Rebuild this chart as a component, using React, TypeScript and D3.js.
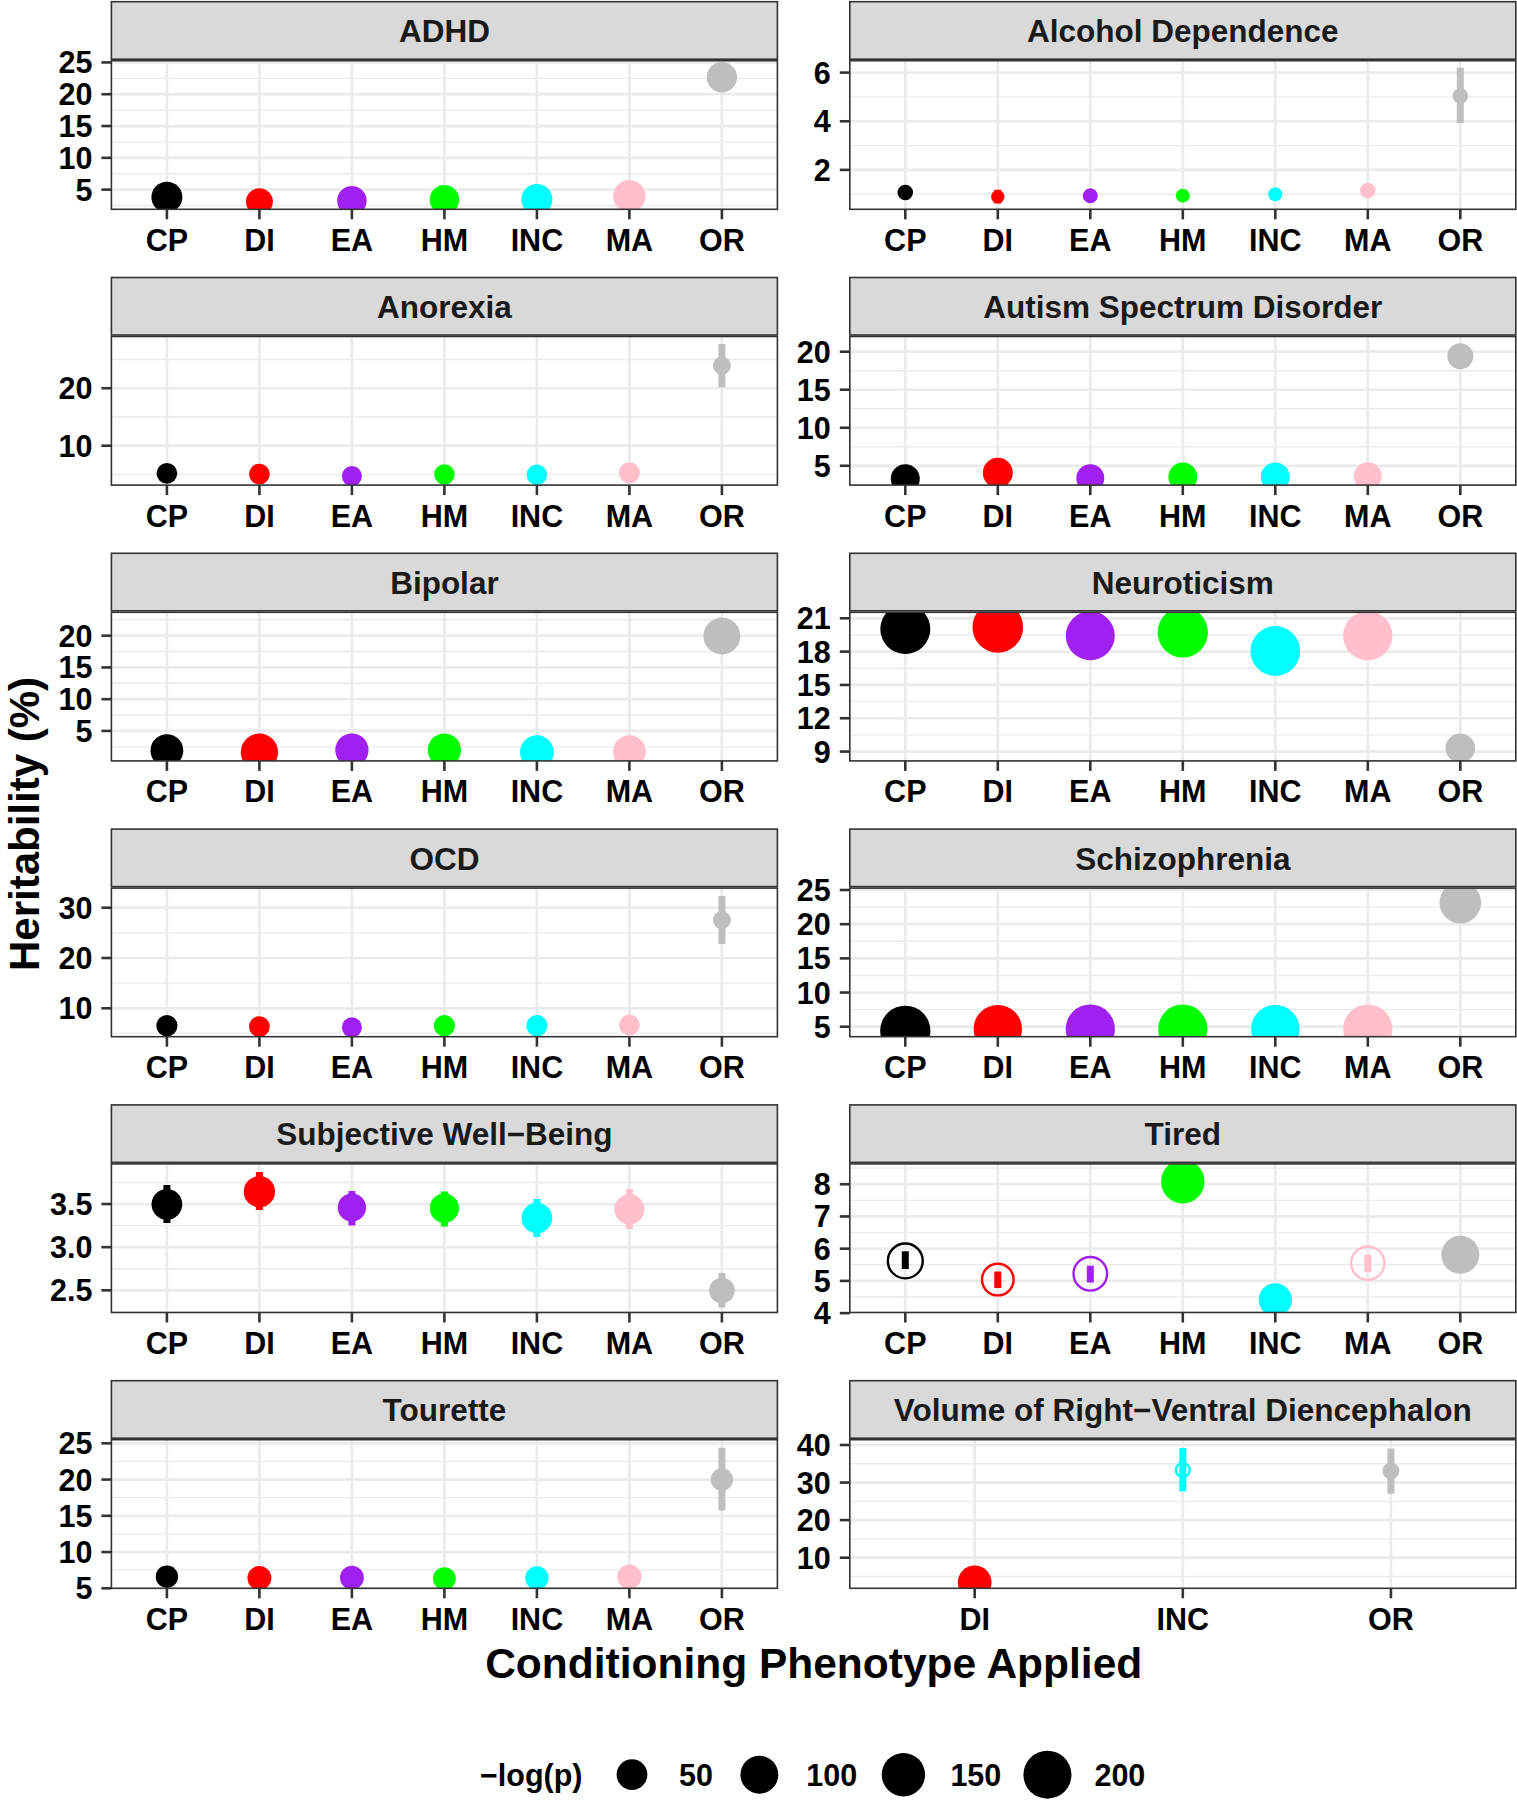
import React from "react";
import * as d3 from "d3";

// ---------- DATA ----------
const allCategories = ["CP", "DI", "EA", "HM", "INC", "MA", "OR"];
const categoryColors = ["#000000", "#FF0000", "#A020F0", "#00FF00", "#00FFFF", "#FFC0CB", "#BEBEBE"];

const panelNames = [
  "ADHD",
  "Alcohol Dependence",
  "Anorexia",
  "Autism Spectrum Disorder",
  "Bipolar",
  "Neuroticism",
  "OCD",
  "Schizophrenia",
  "Subjective Well\u2212Being",
  "Tired",
  "Tourette",
  "Volume of Right\u2212Ventral Diencephalon",
];

const panelCategories = [
  allCategories, allCategories, allCategories, allCategories, allCategories, allCategories,
  allCategories, allCategories, allCategories, allCategories, allCategories,
  ["DI", "INC", "OR"],
];

// heritability (%) point estimates
const heritability = [
  [3.82, 3.1, 3.27, 3.43, 3.46, 3.98, 22.67],
  [1.07, 0.9, 0.94, 0.94, 1.0, 1.15, 5.04],
  [5.19, 5.07, 4.72, 5.01, 4.95, 5.3, 23.94],
  [3.28, 4.08, 3.36, 3.53, 3.53, 3.62, 19.4],
  [1.9, 1.65, 1.98, 1.98, 1.65, 1.75, 19.95],
  [20.04, 20.19, 19.43, 19.73, 18.06, 19.43, 9.31],
  [6.54, 6.34, 6.21, 6.54, 6.54, 6.68, 27.55],
  [4.4, 4.65, 4.65, 4.65, 4.65, 4.65, 23.15],
  [3.497, 3.643, 3.459, 3.453, 3.338, 3.439, 2.498],
  [5.62, 5.04, 5.22, 8.08, 4.41, 5.55, 5.81],
  [6.6, 6.42, 6.47, 6.33, 6.42, 6.6, 20.0],
  [3.4, 33.35, 33.1],
];

const lowerCI = [
  [3.5, 2.97, 3.0, 3.15, 3.18, 3.6, 21.14],
  [0.92, 0.62, 0.8, 0.81, 0.87, 1.0, 3.93],
  [4.6, 4.5, 4.33, 4.45, 4.4, 4.7, 20.17],
  [2.9, 3.6, 3.0, 3.15, 3.15, 3.2, 18.3],
  [1.6, 1.35, 1.68, 1.68, 1.35, 1.45, 18.75],
  [19.6, 19.75, 19.0, 19.3, 17.6, 19.0, 8.77],
  [6.0, 5.8, 5.69, 6.0, 6.0, 6.1, 22.8],
  [4.25, 4.5, 4.5, 4.5, 4.5, 4.5, 22.0],
  [3.28, 3.43, 3.25, 3.24, 3.118, 3.21, 2.3],
  [5.37, 4.78, 4.95, 7.74, 4.23, 5.28, 5.6],
  [6.2, 6.0, 6.05, 5.93, 6.0, 6.2, 15.75],
  [3.2, 27.7, 27.0],
];

const upperCI = [
  [4.14, 3.23, 3.54, 3.71, 3.74, 4.36, 24.2],
  [1.22, 1.18, 1.08, 1.07, 1.13, 1.3, 6.2],
  [5.8, 5.65, 5.1, 5.55, 5.5, 5.9, 27.7],
  [3.66, 4.56, 3.72, 3.9, 3.9, 4.05, 20.5],
  [2.2, 1.95, 2.28, 2.28, 1.95, 2.05, 21.15],
  [20.5, 20.65, 19.85, 20.15, 18.5, 19.85, 9.85],
  [7.1, 6.9, 6.75, 7.1, 7.1, 7.25, 32.35],
  [4.55, 4.8, 4.8, 4.8, 4.8, 4.8, 24.3],
  [3.72, 3.87, 3.65, 3.646, 3.558, 3.674, 2.7],
  [5.92, 5.29, 5.47, 8.42, 4.6, 5.81, 6.0],
  [7.0, 6.85, 6.9, 6.75, 6.85, 7.0, 24.4],
  [3.65, 39.2, 39.1],
];

// -log(p) (point size)
const negLogP = [
  [51.7, 30.9, 42.8, 42.8, 51.7, 60.3, 47.7],
  [0.75, 0.0, 0.4, 0.05, 0.07, 0.75, 0.75],
  [8.9, 8.9, 7.5, 8.5, 8.5, 9.5, 3.5],
  [40.7, 46.0, 35.6, 40.7, 40.7, 35.6, 26.5],
  [62.9, 95.4, 66.2, 66.2, 69.5, 62.9, 93.0],
  [223.8, 232.0, 211.7, 228.0, 220.0, 215.0, 43.3],
  [10.0, 9.0, 7.5, 10.0, 10.0, 9.0, 3.5],
  [227.0, 204.7, 215.0, 215.0, 204.7, 215.0, 133.0],
  [50.6, 53.5, 37.0, 42.2, 50.0, 46.0, 25.3],
  [95.4, 70.9, 85.3, 151.3, 66.2, 83.0, 101.0],
  [13.5, 18.4, 18.4, 15.0, 16.7, 20.2, 13.5],
  [69.5, 1.5, 2.0],
];

// 1 = filled point, 0 = open point
const filledPoint = [
  [1, 1, 1, 1, 1, 1, 1],
  [1, 1, 1, 1, 1, 1, 1],
  [1, 1, 1, 1, 1, 1, 1],
  [1, 1, 1, 1, 1, 1, 1],
  [1, 1, 1, 1, 1, 1, 1],
  [1, 1, 1, 1, 1, 1, 1],
  [1, 1, 1, 1, 1, 1, 1],
  [1, 1, 1, 1, 1, 1, 1],
  [1, 1, 1, 1, 1, 1, 1],
  [0, 0, 0, 1, 1, 0, 1],
  [1, 1, 1, 1, 1, 1, 1],
  [1, 0, 1],
];

const yDomains = [
  [1.91, 25.27],
  [0.38, 6.49],
  [3.15, 29.0],
  [2.46, 22.0],
  [0.28, 23.68],
  [8.16, 21.54],
  [4.35, 33.9],
  [3.54, 25.28],
  [2.243, 3.965],
  [4.02, 8.63],
  [5.0, 25.5],
  [1.85, 41.41],
];

const yTicks = [
  [5, 10, 15, 20, 25],
  [2, 4, 6],
  [10, 20],
  [5, 10, 15, 20],
  [5, 10, 15, 20],
  [9, 12, 15, 18, 21],
  [10, 20, 30],
  [5, 10, 15, 20, 25],
  [2.5, 3.0, 3.5],
  [4, 5, 6, 7, 8],
  [5, 10, 15, 20, 25],
  [10, 20, 30, 40],
];

const legendBreaks = [50, 100, 150, 200];

// ---------- LAYOUT ----------
const FONT = "'Liberation Sans', Arial, Helvetica, sans-serif";
const colX = [111.4, 849.8];
const panelW = 666;
const rowStep = 275.8;
const firstStripTop = 1.7;
const stripH = 59;
const panelH = 148.6;
const grid = "#EBEBEB";
const dark = "#333333";

const sizeScale = d3.scalePow().exponent(0.5).domain([0, 200]).range([6.7, 24]);
const colorScale = d3.scaleOrdinal<string, string>().domain(allCategories).range(categoryColors);

function Panel({ idx }: { idx: number }) {
  const col = idx % 2;
  const row = Math.floor(idx / 2);
  const x0 = colX[col];
  const stripTop = firstStripTop + rowStep * row;
  const top = stripTop + stripH;
  const bottom = top + panelH;
  const cats = panelCategories[idx];
  const x = d3.scalePoint<string>().domain(cats).range([x0, x0 + panelW]).padding(0.6);
  const y = d3.scaleLinear().domain(yDomains[idx]).range([bottom, top]);
  const ticks = yTicks[idx];
  const step = ticks[1] - ticks[0];
  const dom = yDomains[idx];
  const minor: number[] = [];
  for (let k = -1; k < ticks.length; k++) {
    const v = ticks[0] + step * (k + 0.5);
    if (v > dom[0] && v < dom[1]) minor.push(v);
  }
  const isInt = ticks.every((t) => Number.isInteger(t));
  const fmt = isInt ? d3.format("d") : d3.format(".1f");
  const clipId = `clip-${idx}`;
  const h = heritability[idx];
  const lo = lowerCI[idx];
  const hi = upperCI[idx];
  const sz = negLogP[idx];
  const filled = filledPoint[idx];

  return (
    <g>
      <defs>
        <clipPath id={clipId}>
          <rect x={x0} y={top} width={panelW} height={panelH} />
        </clipPath>
      </defs>
      {/* strip */}
      <rect x={x0} y={stripTop} width={panelW} height={stripH - 1.5} fill="#D9D9D9" stroke={dark} strokeWidth={1.6} />
      <text
        x={x0 + panelW / 2}
        y={stripTop + stripH / 2 + 11}
        textAnchor="middle"
        fontFamily={FONT}
        fontWeight="bold"
        fontSize={31.5}
        fill="#1A1A1A"
      >
        {panelNames[idx]}
      </text>
      {/* panel bg */}
      <rect x={x0} y={top} width={panelW} height={panelH} fill="#FFFFFF" />
      <g clipPath={`url(#${clipId})`}>
        {minor.map((v) => (
          <line key={`mn${v}`} x1={x0} x2={x0 + panelW} y1={y(v)} y2={y(v)} stroke={grid} strokeWidth={1.35} />
        ))}
        {ticks.map((v) => (
          <line key={`mj${v}`} x1={x0} x2={x0 + panelW} y1={y(v)} y2={y(v)} stroke={grid} strokeWidth={2.7} />
        ))}
        {cats.map((c) => (
          <line key={`vx${c}`} x1={x(c)} x2={x(c)} y1={top} y2={bottom} stroke={grid} strokeWidth={2.7} />
        ))}
        {cats.map((c, i) => (
          <line
            key={`eb${c}`}
            x1={x(c)}
            x2={x(c)}
            y1={y(lo[i])}
            y2={y(hi[i])}
            stroke={colorScale(c)}
            strokeWidth={7}
          />
        ))}
        {cats.map((c, i) => {
          const r = sizeScale(sz[i]);
          return filled[i] ? (
            <circle key={`pt${c}`} cx={x(c)} cy={y(h[i])} r={r} fill={colorScale(c)} />
          ) : (
            <circle
              key={`pt${c}`}
              cx={x(c)}
              cy={y(h[i])}
              r={r - 1.2}
              fill="none"
              stroke={colorScale(c)}
              strokeWidth={2.4}
            />
          );
        })}
      </g>
      <rect x={x0} y={top} width={panelW} height={panelH} fill="none" stroke={dark} strokeWidth={1.6} />
      {/* y axis */}
      {ticks.map((v) => (
        <g key={`yt${v}`}>
          <line x1={x0 - 10} x2={x0} y1={y(v)} y2={y(v)} stroke={dark} strokeWidth={2.6} />
          <text
            x={x0 - 19}
            y={y(v)}
            dy="0.36em"
            textAnchor="end"
            fontFamily={FONT}
            fontWeight="bold"
            fontSize={30.5}
            fill="#000"
          >
            {fmt(v)}
          </text>
        </g>
      ))}
      {/* x axis */}
      {cats.map((c) => (
        <g key={`xt${c}`}>
          <line x1={x(c)} x2={x(c)} y1={bottom} y2={bottom + 10} stroke={dark} strokeWidth={2.6} />
          <text
            x={x(c)}
            y={bottom + 41.5}
            textAnchor="middle"
            fontFamily={FONT}
            fontWeight="bold"
            fontSize={30.5}
            fill="#000"
          >
            {c}
          </text>
        </g>
      ))}
    </g>
  );
}

function Legend() {
  const cy = 1774.7;
  const base = 1785.7;
  let cx = 632;
  const items: { v: number; cx: number; lx: number }[] = [];
  legendBreaks.forEach((v) => {
    const lx = cx + 47;
    items.push({ v, cx, lx });
    const w = String(v).length * 0.556 * 30;
    cx = lx + w + 47;
  });
  return (
    <g>
      <text x={480} y={base} fontFamily={FONT} fontWeight="bold" fontSize={30.5} fill="#000">
        {"\u2212log(p)"}
      </text>
      {items.map((it) => (
        <g key={it.v}>
          <circle cx={it.cx} cy={cy} r={sizeScale(it.v)} fill="#000" />
          <text x={it.lx} y={base} fontFamily={FONT} fontWeight="bold" fontSize={30.5} fill="#000">
            {it.v}
          </text>
        </g>
      ))}
    </g>
  );
}

export default function App() {
  return (
    <div style={{ position: "absolute", left: 0, top: 0 }}>
      <svg width={1517} height={1800} viewBox="0 0 1517 1800" style={{ display: "block", background: "#FFFFFF" }}>
        <rect x={0} y={0} width={1517} height={1800} fill="#FFFFFF" />
        {panelNames.map((_, i) => (
          <Panel key={i} idx={i} />
        ))}
        <text
          x={813.7}
          y={1678}
          textAnchor="middle"
          fontFamily={FONT}
          fontWeight="bold"
          fontSize={42.5}
          fill="#000"
        >
          Conditioning Phenotype Applied
        </text>
        <text
          transform="translate(39,824) rotate(-90)"
          textAnchor="middle"
          fontFamily={FONT}
          fontWeight="bold"
          fontSize={42}
          fill="#000"
        >
          Heritability (%)
        </text>
        <Legend />
      </svg>
    </div>
  );
}
